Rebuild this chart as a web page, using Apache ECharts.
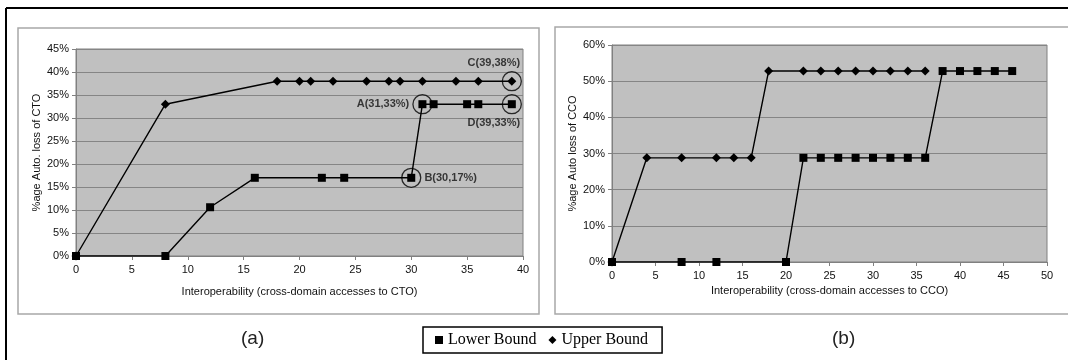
<!DOCTYPE html>
<html>
<head>
<meta charset="utf-8">
<script src="https://cdn.jsdelivr.net/npm/echarts@6/dist/echarts.min.js"></script>
<style>html,body{margin:0;padding:0;background:#fff;}#c{width:1068px;height:360px;}</style>
</head>
<body>
<div id="c"></div>
<script>
// ---- data ----
var leftUpperX = [0, 8, 18, 20, 21, 23, 26, 28, 29, 31, 34, 36, 39];
var leftUpperY = [0, 33, 38, 38, 38, 38, 38, 38, 38, 38, 38, 38, 38];
var leftLowerX = [0, 8, 12, 16, 22, 24, 30, 31, 32, 35, 36, 39];
var leftLowerY = [0, 0, 10.6, 17, 17, 17, 17, 33, 33, 33, 33, 33];
var rightUpperX = [0, 4, 8, 12, 14, 16, 18, 22, 24, 26, 28, 30, 32, 34, 36];
var rightUpperY = [0, 28.8, 28.8, 28.8, 28.8, 28.8, 52.8, 52.8, 52.8, 52.8, 52.8, 52.8, 52.8, 52.8, 52.8];
var rightLowerX = [0, 8, 12, 20, 22, 24, 26, 28, 30, 32, 34, 36, 38, 40, 42, 44, 46];
var rightLowerY = [0, 0, 0, 0, 28.8, 28.8, 28.8, 28.8, 28.8, 28.8, 28.8, 28.8, 52.8, 52.8, 52.8, 52.8, 52.8];
var annoLabels = ['C(39,38%)', 'A(31,33%)', 'D(39,33%)', 'B(30,17%)'];
var annoX = [39, 31, 39, 30];
var annoY = [38, 33, 33, 17];
var seriesNames = ['Lower Bound', 'Upper Bound'];
var xTitles = ['Interoperability (cross-domain accesses to CTO)', 'Interoperability (cross-domain accesses to CCO)'];
var yTitles = ['%age Auto. loss of CTO', '%age Auto loss of CCO'];
var panelLabels = ['(a)', '(b)'];

function zip(xs, ys) { return xs.map(function (x, i) { return [x, ys[i]]; }); }

var FONT = 'Liberation Sans, Arial, sans-serif';
var annoPos = [
  { position: 'top', offset: [-18, 0] },
  { position: 'left', offset: [0, 0] },
  { position: 'bottom', offset: [-18, 0] },
  { position: 'right', offset: [0, 0] }
];

function xAxis(idx, max, gap) {
  return {
    type: 'value', gridIndex: idx, min: 0, max: max, interval: 5,
    name: xTitles[idx], nameLocation: 'middle', nameGap: gap,
    nameTextStyle: { fontFamily: FONT, fontSize: 11, color: '#111' },
    axisLine: { show: true, lineStyle: { color: '#808080', width: 1 } },
    axisTick: { show: true, length: 4, lineStyle: { color: '#808080' } },
    axisLabel: { fontFamily: FONT, fontSize: 11, color: '#111', margin: 8 },
    splitLine: { show: false }
  };
}
function yAxis(idx, max, interval) {
  return {
    type: 'value', gridIndex: idx, min: 0, max: max, interval: interval,
    name: yTitles[idx], nameLocation: 'middle', nameRotate: 90, nameGap: 34,
    nameTextStyle: { fontFamily: FONT, fontSize: 11, color: '#111' },
    axisLine: { show: true, lineStyle: { color: '#808080', width: 1 } },
    axisTick: { show: true, length: 4, lineStyle: { color: '#808080' } },
    axisLabel: { fontFamily: FONT, fontSize: 11, color: '#111', margin: 7, formatter: '{value}%' },
    splitLine: { show: true, lineStyle: { color: '#858585', width: 1 } }
  };
}
function lineSeries(name, idx, data, symbol, size) {
  return {
    name: name, type: 'line', xAxisIndex: idx, yAxisIndex: idx, data: data,
    symbol: symbol, symbolSize: size, showSymbol: true, animation: false,
    lineStyle: { color: '#000', width: 1.4 },
    itemStyle: { color: '#000' }
  };
}

var chart = echarts.init(document.getElementById('c'), null, { renderer: 'canvas' });
var option = {
  animation: false,
  backgroundColor: '#fff',
  grid: [
    { left: 76, top: 49, width: 447, height: 207, show: true, backgroundColor: '#c0c0c0', borderColor: '#808080', borderWidth: 1 },
    { left: 612, top: 45, width: 435, height: 217, show: true, backgroundColor: '#c0c0c0', borderColor: '#808080', borderWidth: 1 }
  ],
  xAxis: [xAxis(0, 40, 30), xAxis(1, 50, 23)],
  yAxis: [yAxis(0, 45, 5), yAxis(1, 60, 10)],
  legend: {
    left: 423, top: 327, orient: 'horizontal',
    padding: [5, 14, 5, 12], itemGap: 12, itemWidth: 8, itemHeight: 8,
    borderColor: '#000', borderWidth: 1.5, backgroundColor: '#fff',
    textStyle: { fontFamily: 'Liberation Serif, Times New Roman, serif', fontSize: 16, color: '#000' },
    data: [
      { name: seriesNames[0], icon: 'rect' },
      { name: seriesNames[1], icon: 'diamond' }
    ]
  },
  graphic: [
    { type: 'line', z: -10, shape: { x1: 6, y1: 8, x2: 6, y2: 360 }, style: { stroke: '#000', lineWidth: 2 } },
    { type: 'line', z: -10, shape: { x1: 6, y1: 8, x2: 1068, y2: 8 }, style: { stroke: '#000', lineWidth: 2 } },
    { type: 'rect', z: -10, shape: { x: 18, y: 28, width: 521, height: 286 }, style: { fill: '#fff', stroke: '#a8a8a8', lineWidth: 1.5 } },
    { type: 'rect', z: -10, shape: { x: 555, y: 27, width: 520, height: 287 }, style: { fill: '#fff', stroke: '#a8a8a8', lineWidth: 1.5 } },
    { type: 'text', left: 241, top: 329, style: { text: panelLabels[0], fontFamily: FONT, fontSize: 19, fill: '#222' } },
    { type: 'text', left: 832, top: 329, style: { text: panelLabels[1], fontFamily: FONT, fontSize: 19, fill: '#222' } }
  ],
  series: [
    lineSeries(seriesNames[1], 0, zip(leftUpperX, leftUpperY), 'diamond', 9),
    lineSeries(seriesNames[0], 0, zip(leftLowerX, leftLowerY), 'rect', 8),
    lineSeries(seriesNames[1], 1, zip(rightUpperX, rightUpperY), 'diamond', 9),
    lineSeries(seriesNames[0], 1, zip(rightLowerX, rightLowerY), 'rect', 8),
    {
      type: 'scatter', xAxisIndex: 0, yAxisIndex: 0, symbol: 'circle', symbolSize: 19, z: 5,
      silent: true, animation: false,
      itemStyle: { color: 'rgba(0,0,0,0)', borderColor: '#000', borderWidth: 1.3 },
      data: annoX.map(function (x, i) {
        return {
          value: [x, annoY[i]],
          label: {
            show: true, formatter: annoLabels[i], position: annoPos[i].position, offset: annoPos[i].offset,
            distance: 3, fontFamily: FONT, fontSize: 11, fontWeight: 'bold', color: '#111'
          }
        };
      })
    }
  ]
};
chart.setOption(option);
</script>
</body>
</html>
